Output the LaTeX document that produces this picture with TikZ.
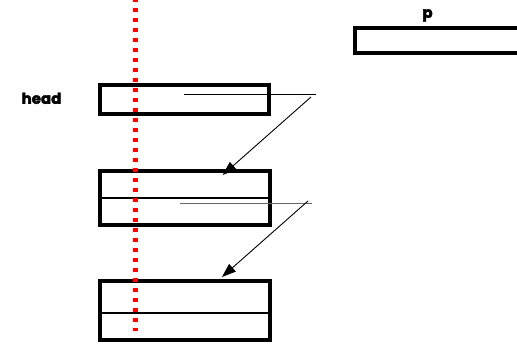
\documentclass[tikz,border=0pt]{standalone}
\usepackage{fontspec}
\setmainfont{Poppins}[BoldFeatures={FakeBold=2.5}]
\usetikzlibrary{arrows.meta}
\begin{document}
\begin{tikzpicture}[x=1pt,y=-1pt,
  cell/.style={draw=black,line width=4pt,inner sep=0pt,outer sep=0pt,anchor=north west},
  divider/.style={line width=2pt},
  ptr/.style={line width=0.9pt},
  ptrarrow/.style={line width=0.9pt,-{Triangle[length=14pt,width=10pt]}},
  lbl/.style={font=\bfseries\fontsize{15}{15}\selectfont,inner sep=0pt}]
\useasboundingbox (0,0) rectangle (517,344);
% cursor node p
\node[cell,minimum width=175pt,minimum height=25pt] (pbox) at (355.3,28) {};
\node[lbl] (plbl) at (427.5,15.5) {p};
% head label and list cells
\node[lbl] (headlbl) at (41.5,98.3) {head};
\node[cell,minimum width=168.4pt,minimum height=29.1pt] (n1) at (100.3,84.7) {};
\node[cell,minimum width=169.4pt,minimum height=53.4pt] (n2) at (100.3,171.3) {};
\node[cell,minimum width=169.4pt,minimum height=59.2pt] (n3) at (100.3,281.3) {};
\draw[divider] (n2.west |- 0,197.8) -- (n2.east |- 0,197.8);
\draw[divider] (n3.west |- 0,312.8) -- (n3.east |- 0,312.8);
% next pointers
\coordinate (s1) at (184,94.7);
\coordinate (e1) at (316,94.7);
\coordinate (b1) at (311,97);
\coordinate (t1) at (222.7,175);
\coordinate (s2) at (180,203.7);
\coordinate (e2) at (312,203.7);
\coordinate (b2) at (308,201);
\coordinate (t2) at (222,277);
\draw[ptr] (s1) -- (e1);
\draw[ptrarrow] (b1) -- (t1);
\draw[ptr,line width=1.4pt,black!60] (s2) -- (e2);
\draw[ptrarrow] (b2) -- (t2);
% red dotted boundary
\coordinate (r0) at (135.5,-2);
\coordinate (r1) at (135.5,331);
\draw[red,line width=4.5pt,dash pattern=on 4.5pt off 5.5pt] (r0) -- (r1);
\end{tikzpicture}
\end{document}
